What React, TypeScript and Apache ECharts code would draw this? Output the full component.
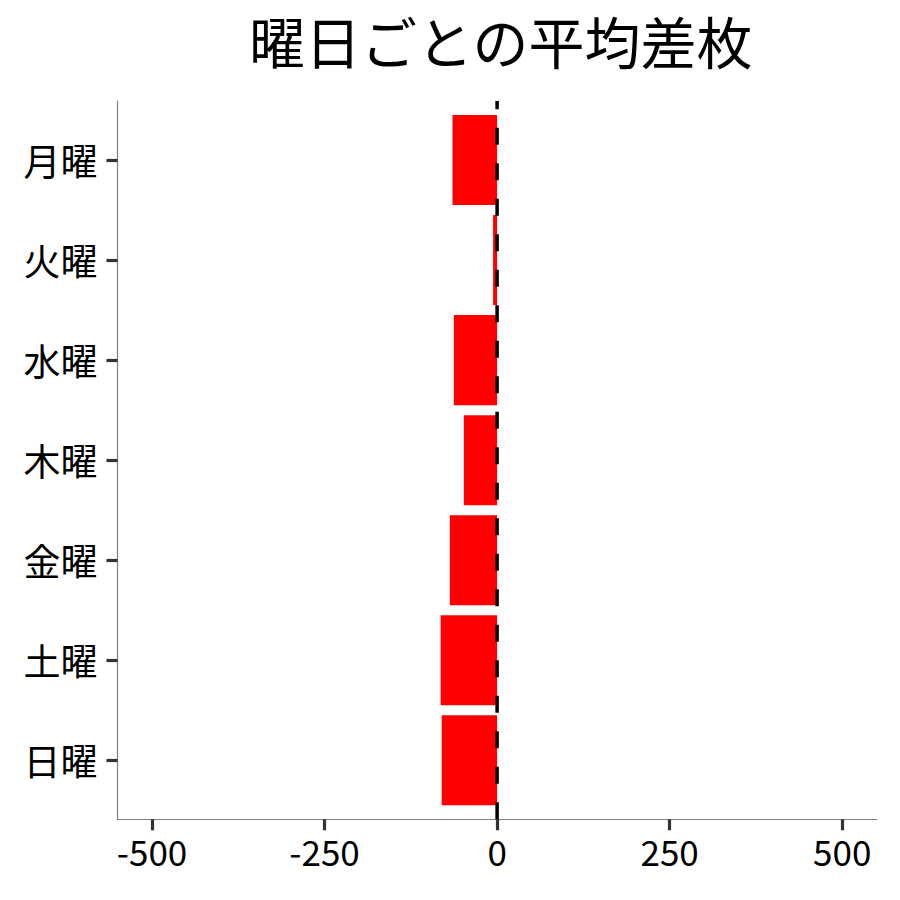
import React from 'react';
import * as echarts from 'echarts';

const days = ['月曜', '火曜', '水曜', '木曜', '金曜', '土曜', '日曜'];
const avgDiff = [-64.6, -5.8, -62.7, -48.2, -68.5, -81.8, -80.3];
const xTicks = [-500, -250, 0, 250, 500];

const FONT = '"Noto Sans CJK JP", "Noto Sans", sans-serif';

const App: React.FC = () => {
  const chartRef = React.useRef<HTMLDivElement>(null);

  React.useEffect(() => {
    if (!chartRef.current) return;
    const chart = echarts.init(chartRef.current, null, { renderer: 'svg' });
    const dayIdx = days.map((_, i) => i);

    chart.setOption({
      animation: false,
      backgroundColor: '#ffffff',
      textStyle: { fontFamily: FONT },
      title: {
        text: '曜日ごとの平均差枚',
        left: 244,
        top: 6,
        textStyle: { fontFamily: FONT, fontSize: 56, fontWeight: 'normal', color: '#000' },
      },
      grid: { left: 117.5, right: 23.3, top: 101, bottom: 80.7 },
      xAxis: {
        type: 'value',
        min: -550,
        max: 550,
        splitLine: { show: false },
        axisLine: { show: true, onZero: false, lineStyle: { color: '#7f7f7f', width: 1.2 } },
        axisTick: {
          show: true,
          customValues: xTicks,
          length: 11,
          lineStyle: { color: '#333', width: 3.2 },
        },
        axisLabel: {
          customValues: xTicks,
          margin: 14,
          fontFamily: FONT,
          fontSize: 35,
          color: '#000',
        },
      },
      yAxis: {
        type: 'value',
        inverse: true,
        min: -0.59,
        max: 6.59,
        splitLine: { show: false },
        axisLine: { show: true, onZero: false, lineStyle: { color: '#7f7f7f', width: 1.2 } },
        axisTick: {
          show: true,
          customValues: dayIdx,
          length: 11,
          lineStyle: { color: '#333', width: 3.2 },
        },
        axisLabel: {
          customValues: dayIdx,
          formatter: (v: number) => days[Math.round(v)] ?? '',
          margin: 20,
          fontFamily: FONT,
          fontSize: 37,
          color: '#000',
        },
      },
      series: [
        {
          type: 'custom',
          encode: { x: 0, y: 1 },
          data: avgDiff.map((v, i) => [v, i]),
          renderItem: (_params: any, api: any) => {
            const v = api.value(0);
            const i = api.value(1);
            const p0 = api.coord([0, i - 0.45]);
            const p1 = api.coord([v, i + 0.45]);
            return {
              type: 'rect',
              shape: {
                x: Math.min(p0[0], p1[0]),
                y: Math.min(p0[1], p1[1]),
                width: Math.abs(p1[0] - p0[0]),
                height: Math.abs(p1[1] - p0[1]),
              },
              style: { fill: '#ff0000' },
            };
          },
          z: 2,
        },
        {
          type: 'line',
          data: [
            [0, 6.59],
            [0, -0.59],
          ],
          symbol: 'none',
          silent: true,
          lineStyle: { color: '#000', width: 3.5, type: [17, 18.5] },
          z: 3,
        },
      ],
    });

    return () => {
      chart.dispose();
    };
  }, []);

  return (
    <div
      ref={chartRef}
      style={{ position: 'absolute', left: 0, top: 0, width: 900, height: 900 }}
    />
  );
};

export default App;
